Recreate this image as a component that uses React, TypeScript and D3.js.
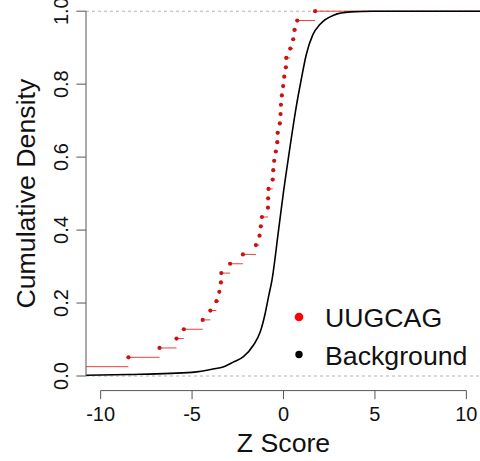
import { useEffect, useRef } from "react";
import * as d3 from "d3";

// Z scores of the UUGCAG sites (the first one sits left of the plotted range)
const uugcagScores = [
  -12.5, -8.48, -6.78, -5.85, -5.45, -4.42, -4.0, -3.67, -3.51, -3.42, -3.4,
  -2.92, -2.22, -1.51, -1.31, -1.24, -1.18, -0.85, -0.84, -0.82, -0.59, -0.56,
  -0.51, -0.42, -0.34, -0.32, -0.2, -0.16, -0.14, -0.09, -0.02, 0.04, 0.13,
  0.15, 0.37, 0.53, 0.6, 0.75, 1.73,
];

// Background cumulative curve
const bgZ = [
  -10.8, -8.5, -5, -3.85, -3.19, -2.75, -2.19, -1.64, -1.27, -1.0, -0.82, -0.63,
  -0.27, 0.0, 0.09, 0.37, 0.71, 0.96, 1.24, 1.6, 2.0, 2.74, 3.65, 4.9, 10.8,
];
const bgCdf = [
  0.002, 0.004, 0.01, 0.019, 0.027, 0.038, 0.053, 0.085, 0.121, 0.172, 0.217,
  0.263, 0.4, 0.505, 0.537, 0.633, 0.742, 0.81, 0.88, 0.935, 0.964, 0.989,
  0.998, 1.0, 1.0,
];

const xTicks = [-10, -5, 0, 5, 10];
const yTicks = [0, 0.2, 0.4, 0.6, 0.8, 1.0];
const seriesNames = ["UUGCAG", "Background"];

const FONT = "'Liberation Sans', Arial, Helvetica, sans-serif";

const App = () => {
  const svgRef = useRef<SVGSVGElement | null>(null);

  useEffect(() => {
    const width = 480;
    const height = 461;
    const svg = d3.select(svgRef.current);
    svg.selectAll("*").remove();
    svg.attr("width", width).attr("height", height);

    // R style: limits stretched by 4% each side
    const x = d3.scaleLinear().domain([-10.8, 10.8]).range([86, 481]);
    const y = d3.scaleLinear().domain([-0.04, 1.04]).range([390.6, -3.4]);
    const [x0, x1] = x.range();
    const [yb, yt] = y.range();

    svg
      .append("defs")
      .append("clipPath")
      .attr("id", "plot-clip")
      .append("rect")
      .attr("x", x0)
      .attr("y", yt)
      .attr("width", x1 - x0)
      .attr("height", yb - yt);

    const plot = svg.append("g").attr("clip-path", "url(#plot-clip)");

    // dashed reference lines at 0 and 1
    plot
      .selectAll(".ref")
      .data([0, 1])
      .enter()
      .append("line")
      .attr("x1", x0)
      .attr("x2", x1)
      .attr("y1", (d) => y(d))
      .attr("y2", (d) => y(d))
      .attr("stroke", "#b3b3b3")
      .attr("stroke-width", 1)
      .attr("stroke-dasharray", "3,3");

    // empirical CDF of the UUGCAG scores
    const sorted = [...uugcagScores].sort((a, b) => a - b);
    const n = sorted.length;
    const steps = sorted.map((z, i) => ({
      z,
      next: i < n - 1 ? sorted[i + 1] : x.domain()[1],
      p: (i + 1) / n,
    }));

    plot
      .selectAll(".step")
      .data(steps)
      .enter()
      .append("line")
      .attr("x1", (d) => x(d.z))
      .attr("x2", (d) => x(d.next))
      .attr("y1", (d) => y(d.p))
      .attr("y2", (d) => y(d.p))
      .attr("stroke", "#e8403f")
      .attr("stroke-width", 1);

    plot
      .selectAll(".dot")
      .data(steps)
      .enter()
      .append("circle")
      .attr("cx", (d) => x(d.z))
      .attr("cy", (d) => y(d.p))
      .attr("r", 2.1)
      .attr("fill", "#cc1111");

    // background curve
    const line = d3
      .line<number>()
      .x((d) => x(d))
      .y((_, i) => y(bgCdf[i]))
      .curve(d3.curveMonotoneX);

    plot
      .append("path")
      .datum(bgZ)
      .attr("fill", "none")
      .attr("stroke", "#000")
      .attr("stroke-width", 1.6)
      .attr("d", line);

    // axes
    const axisColor = "#555";
    const xAxisY = y(-0.04);
    const gx = svg.append("g").attr("transform", `translate(0,${xAxisY})`);
    gx.append("line")
      .attr("x1", x(xTicks[0]))
      .attr("x2", x(xTicks[xTicks.length - 1]))
      .attr("stroke", axisColor);
    gx.selectAll(".tick")
      .data(xTicks)
      .enter()
      .append("line")
      .attr("x1", (d) => x(d))
      .attr("x2", (d) => x(d))
      .attr("y2", 8.6)
      .attr("stroke", axisColor);
    gx.selectAll(".lab")
      .data(xTicks)
      .enter()
      .append("text")
      .attr("x", (d) => x(d))
      .attr("y", 30)
      .attr("text-anchor", "middle")
      .style("font-family", FONT)
      .style("font-size", "20px")
      .attr("fill", "#111")
      .text((d) => String(d).replace("−", "-"));

    const gy = svg.append("g").attr("transform", `translate(${x0},0)`);
    gy.append("line")
      .attr("y1", y(yTicks[0]))
      .attr("y2", y(yTicks[yTicks.length - 1]))
      .attr("stroke", axisColor);
    gy.selectAll(".tick")
      .data(yTicks)
      .enter()
      .append("line")
      .attr("y1", (d) => y(d))
      .attr("y2", (d) => y(d))
      .attr("x2", -9.6)
      .attr("stroke", axisColor);
    gy.selectAll(".lab")
      .data(yTicks)
      .enter()
      .append("text")
      .attr("transform", (d) => `translate(-18,${y(d)}) rotate(-90)`)
      .attr("text-anchor", "middle")
      .style("font-family", FONT)
      .style("font-size", "20px")
      .attr("fill", "#111")
      .text((d) => d3.format(".1f")(d));

    // axis titles
    svg
      .append("text")
      .attr("x", (x0 + x1) / 2)
      .attr("y", 452)
      .attr("text-anchor", "middle")
      .style("font-family", FONT)
      .style("font-size", "26.7px")
      .attr("fill", "#111")
      .text("Z Score");

    svg
      .append("text")
      .attr("transform", `translate(34.5,${(yb + yt) / 2}) rotate(-90)`)
      .attr("text-anchor", "middle")
      .style("font-family", FONT)
      .style("font-size", "26.7px")
      .attr("fill", "#111")
      .text("Cumulative Density");

    // legend
    const legend = svg.append("g").attr("transform", "translate(299,317)");
    const legendColors = ["#ff0000", "#000"];
    const legendR = [4.3, 3.7];
    seriesNames.forEach((name, i) => {
      legend
        .append("circle")
        .attr("cx", 0)
        .attr("cy", i * 37.5)
        .attr("r", legendR[i])
        .attr("fill", legendColors[i]);
      legend
        .append("text")
        .attr("x", 26)
        .attr("y", i * 37.5 + 10)
        .style("font-family", FONT)
        .style("font-size", "26.7px")
        .attr("fill", "#111")
        .text(name);
    });
  }, []);

  return (
    <div style={{ position: "absolute", left: 0, top: 0 }}>
      <svg ref={svgRef} style={{ display: "block", background: "#fff" }}></svg>
    </div>
  );
};

export default App;
